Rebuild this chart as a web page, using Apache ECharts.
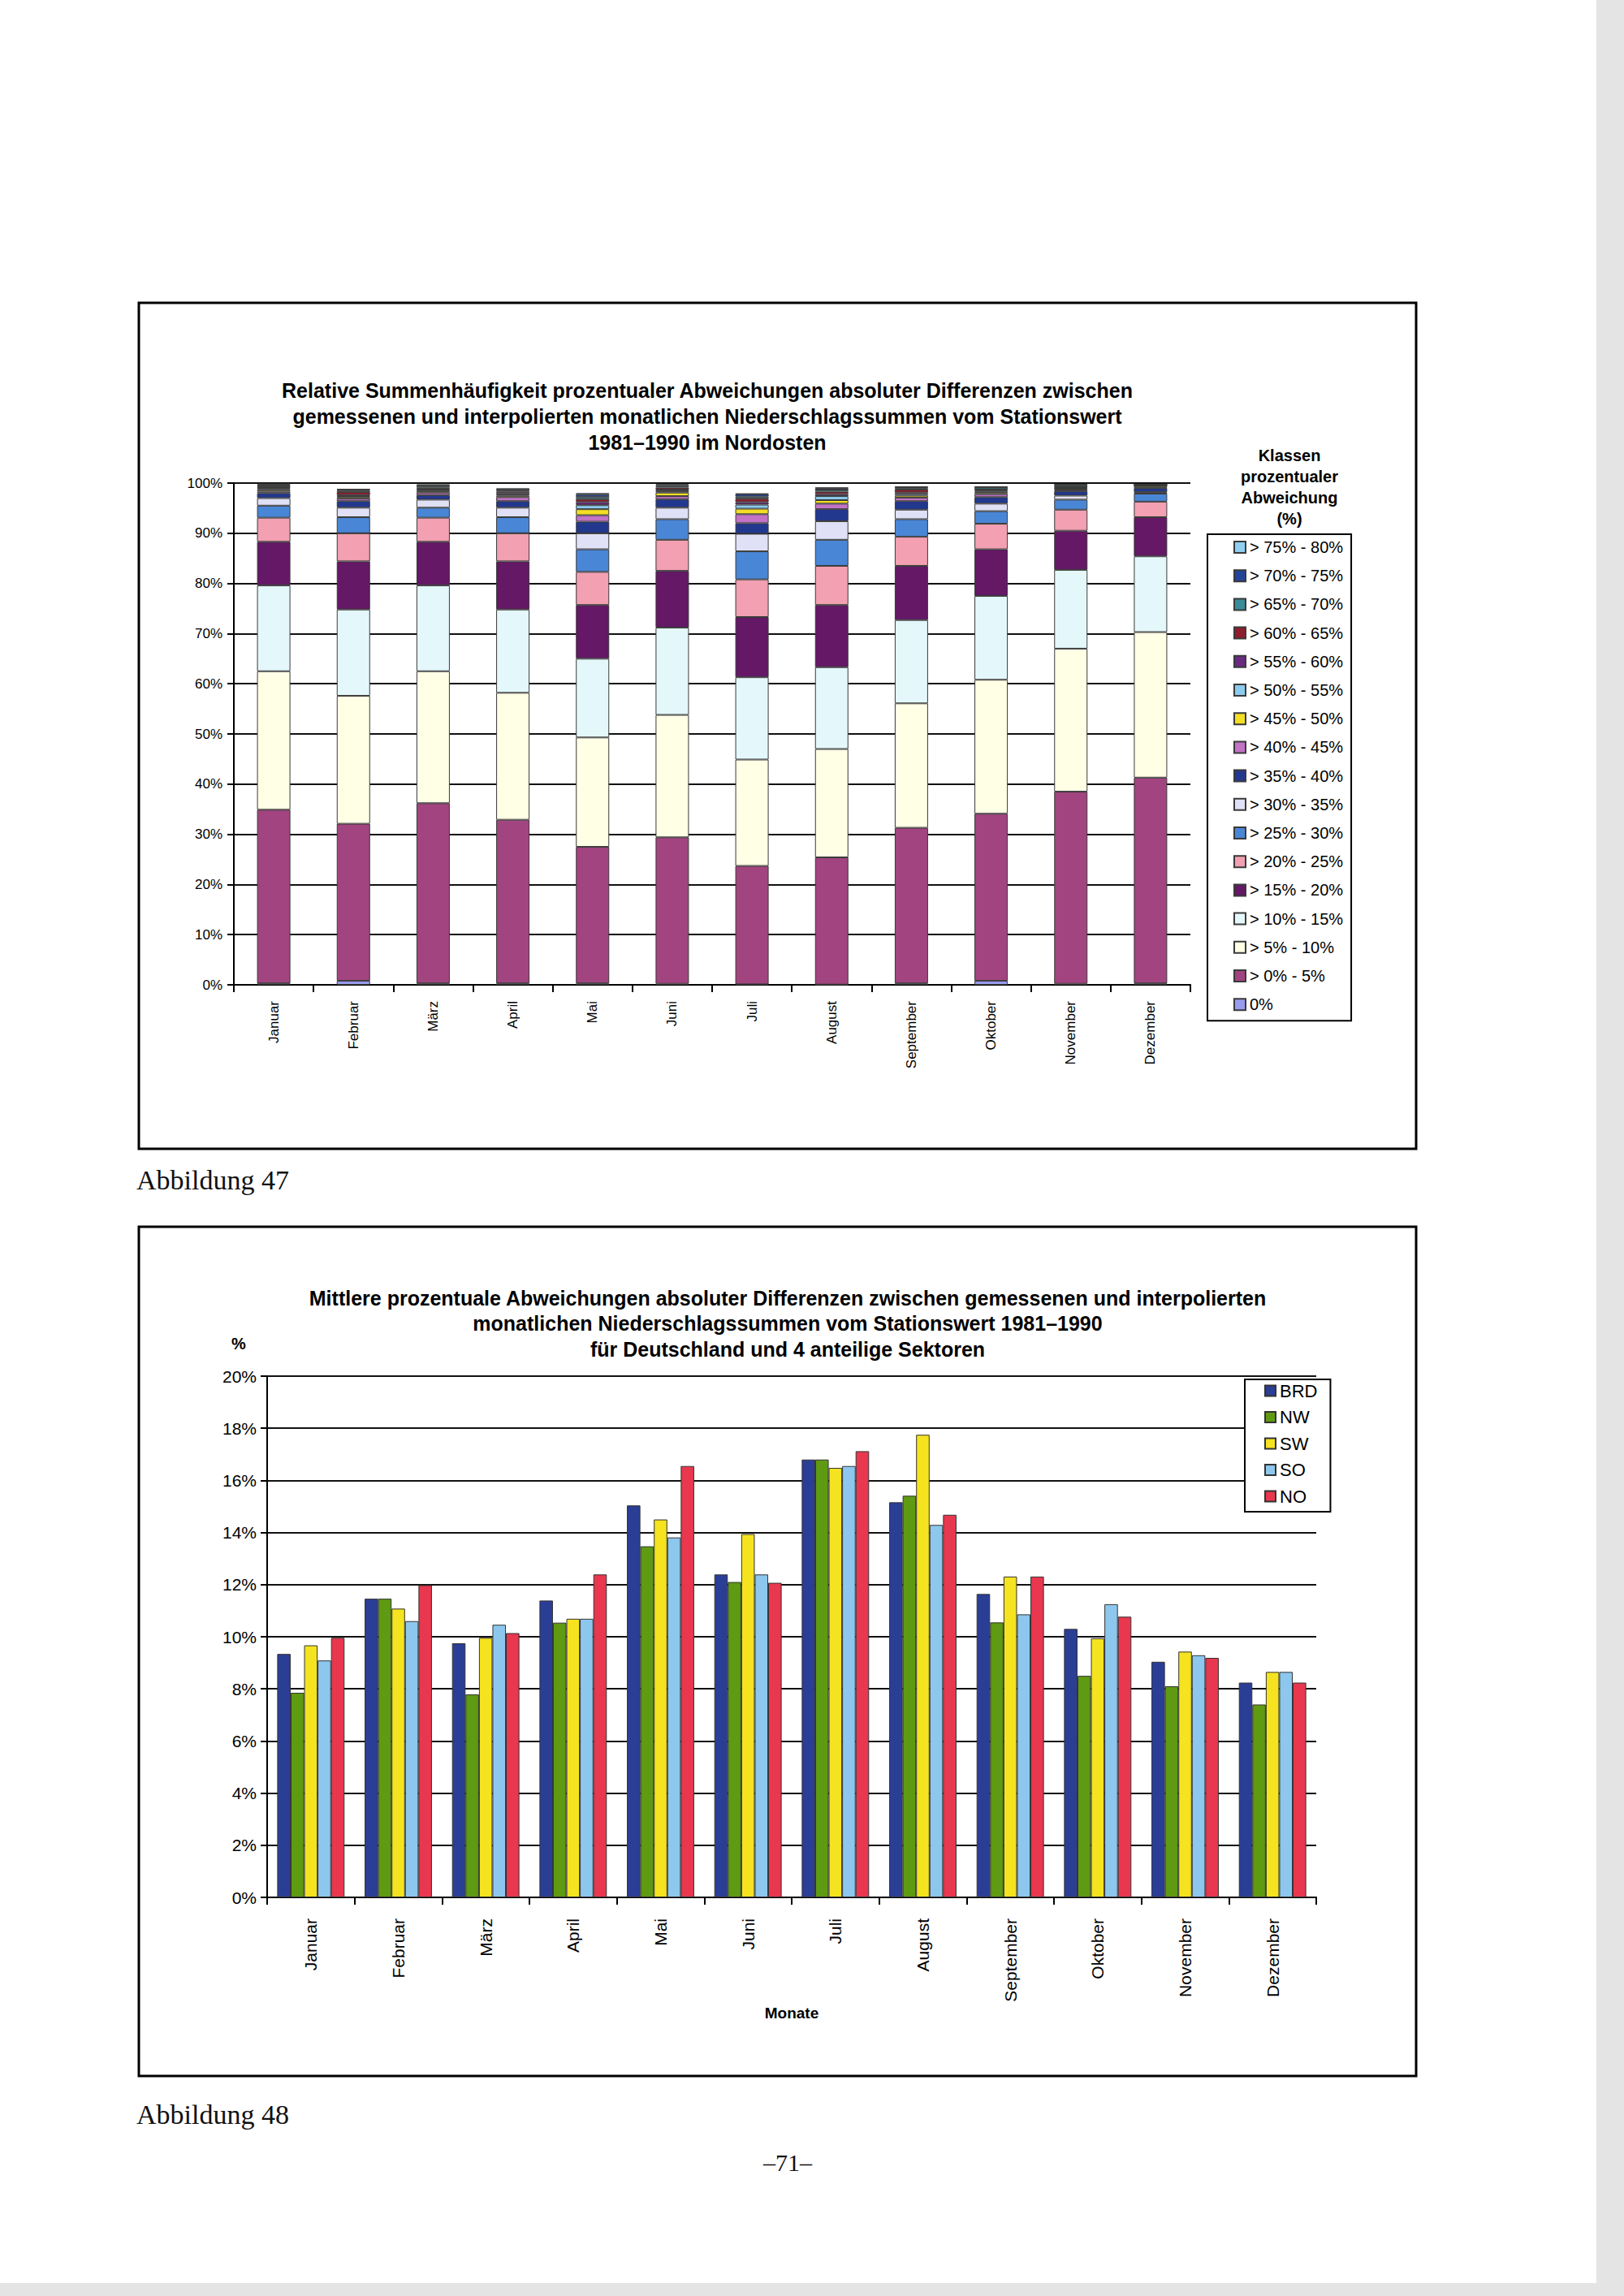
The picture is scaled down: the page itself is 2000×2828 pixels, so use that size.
<!DOCTYPE html>
<html>
<head>
<meta charset="utf-8">
<script src="https://cdn.jsdelivr.net/npm/echarts@6/dist/echarts.min.js"></script>
<style>
html,body{margin:0;padding:0;background:#fff;}
#c{width:2000px;height:2828px;}
</style>
</head>
<body>
<div id="c"></div>
<script>
// ---------- Abbildung 47 data ----------
var months = ['Januar','Februar','März','April','Mai','Juni','Juli','August','September','Oktober','November','Dezember'];
var classNames = ['0%','> 0% - 5%','> 5% - 10%','> 10% - 15%','> 15% - 20%','> 20% - 25%','> 25% - 30%','> 30% - 35%','> 35% - 40%','> 40% - 45%','> 45% - 50%','> 50% - 55%','> 55% - 60%','> 60% - 65%','> 65% - 70%','> 70% - 75%','> 75% - 80%'];
var classColors = ['#9A9CF0','#A2447F','#FFFFE6','#E4F8FB','#641866','#F2A0B2','#4A86D6','#E0E0F6','#22388F','#C273C6','#F3DE22','#8CCBEE','#6A2A80','#8E1E2E','#3A8C9A','#24449A','#8FD0F0'];
var c0     = [0.3, 0.8, 0.3, 0.3, 0.3, 0.2, 0.1, 0.05, 0.3, 0.8, 0.2, 0.3];
var c0_5   = [34.6, 31.3, 35.9, 32.6, 27.2, 29.2, 23.6, 25.35, 31.0, 33.3, 38.3, 41.0];
var c5_10  = [27.6, 25.5, 26.3, 25.3, 21.8, 24.4, 21.2, 21.6, 24.8, 26.7, 28.5, 29.0];
var c10_15 = [17.1, 17.2, 17.1, 16.6, 15.7, 17.4, 16.4, 16.3, 16.6, 16.7, 15.7, 15.1];
var c15_20 = [8.7, 9.6, 8.7, 9.6, 10.7, 11.3, 12.0, 12.4, 10.8, 9.3, 7.8, 7.8];
var c20_25 = [4.8, 5.6, 4.8, 5.6, 6.6, 6.2, 7.5, 7.8, 5.8, 5.1, 4.2, 3.1];
var c25_30 = [2.4, 3.2, 2.0, 3.2, 4.5, 4.1, 5.6, 5.2, 3.5, 2.5, 2.0, 1.6];
var c30_35 = [1.5, 1.9, 1.6, 1.9, 3.2, 2.3, 3.5, 3.7, 1.9, 1.5, 0.8, 0.3];
var c35_40 = [1.0, 1.3, 0.9, 1.3, 2.3, 1.7, 2.1, 2.4, 1.7, 1.3, 0.9, 0.8];
var c40_45 = [0.3, 0.5, 0.5, 0.8, 1.3, 0.6, 1.8, 1.1, 0.7, 0.6, 0.3, 0.1];
var c45_50 = [0.3, 0.3, 0.3, 0.3, 1.2, 0.7, 1.1, 0.7, 0.4, 0.3, 0.2, 0.3];
var c50_55 = [0.2, 0.2, 0.3, 0.2, 0.8, 0.3, 0.8, 0.8, 0.3, 0.2, 0.1, 0.1];
var c55_60 = [0.2, 0.2, 0.2, 0.3, 0.6, 0.3, 0.5, 0.4, 0.3, 0.2, 0.2, 0.05];
var c60_65 = [0.2, 0.6, 0.2, 0.3, 0.6, 0.4, 0.7, 0.5, 0.6, 0.2, 0.1, 0.05];
var c65_70 = [0.3, 0.3, 0.3, 0.2, 0.4, 0.3, 0.4, 0.4, 0.3, 0.4, 0.3, 0.05];
var c70_75 = [0.2, 0.2, 0.2, 0.3, 0.5, 0.2, 0.5, 0.3, 0.2, 0.1, 0.1, 0.05];
var c75_80 = [0.2, 0.1, 0.1, 0.1, 0.3, 0.2, 0.1, 0.1, 0.1, 0.1, 0.1, 0.05];
var classValues = [c0,c0_5,c5_10,c10_15,c15_20,c20_25,c25_30,c30_35,c35_40,c40_45,c45_50,c50_55,c55_60,c60_65,c65_70,c70_75,c75_80];
var yTicks1 = ['0%','10%','20%','30%','40%','50%','60%','70%','80%','90%','100%'];

// ---------- Abbildung 48 data ----------
var sectors = ['BRD','NW','SW','SO','NO'];
var sectorColors = ['#2B3E96','#5E9A12','#F5E31F','#8DC7EE','#E8374E'];
var brd = [9.34, 11.46, 9.75, 11.39, 15.04, 12.39, 16.80, 15.16, 11.64, 10.30, 9.04, 8.24];
var nw  = [7.85, 11.46, 7.79, 10.54, 13.47, 12.10, 16.80, 15.41, 10.55, 8.50, 8.10, 7.40];
var sw  = [9.67, 11.08, 9.96, 10.69, 14.50, 13.94, 16.48, 17.75, 12.31, 9.94, 9.43, 8.65];
var so  = [9.09, 10.60, 10.46, 10.69, 13.81, 12.39, 16.55, 14.29, 10.86, 11.25, 9.29, 8.65];
var no  = [9.96, 11.98, 10.14, 12.39, 16.55, 12.07, 17.12, 14.68, 12.31, 10.77, 9.19, 8.24];
var sectorValues = [brd, nw, sw, so, no];

var FONT = '"Liberation Sans", Arial, sans-serif';
var SERIF = '"Liberation Serif", "Times New Roman", serif';

var chart = echarts.init(document.getElementById('c'), null, {renderer:'svg', width:2000, height:2828});

var series = [];
classNames.forEach(function(n, i){
  series.push({
    type:'bar', name:n, stack:'k', xAxisIndex:0, yAxisIndex:0,
    data: classValues[i], barWidth:41,
    itemStyle:{color:classColors[i], borderColor:'#3a3a3a', borderWidth:1},
    emphasis:{disabled:true}
  });
});
sectors.forEach(function(n, i){
  series.push({
    type:'bar', name:n, xAxisIndex:1, yAxisIndex:1,
    data: sectorValues[i], barGap:'0%', barCategoryGap:'23%',
    itemStyle:{color:sectorColors[i], borderColor:'#333', borderWidth:1},
    emphasis:{disabled:true}
  });
});

var option = {
  animation:false,
  backgroundColor:'#ffffff',
  textStyle:{fontFamily:FONT},
  grid:[
    {left:288, top:595, width:1178, height:618},
    {left:329, top:1695, width:1292, height:642}
  ],
  xAxis:[
    {type:'category', gridIndex:0, data:months,
     axisLine:{lineStyle:{color:'#000', width:2}},
     axisTick:{show:true, alignWithLabel:false, length:9, lineStyle:{color:'#000', width:2}},
     axisLabel:{rotate:90, margin:20, color:'#000', fontSize:17, fontFamily:FONT, interval:0}},
    {type:'category', gridIndex:1, data:months,
     name:'Monate', nameLocation:'middle', nameGap:124,
     nameTextStyle:{fontSize:19, fontWeight:'bold', color:'#000', fontFamily:FONT},
     axisLine:{lineStyle:{color:'#000', width:2}},
     axisTick:{show:true, alignWithLabel:false, length:9, lineStyle:{color:'#000', width:2}},
     axisLabel:{rotate:90, margin:26, color:'#000', fontSize:21, fontFamily:FONT, interval:0}}
  ],
  yAxis:[
    {type:'value', gridIndex:0, min:0, max:100, interval:10,
     axisLine:{show:true, lineStyle:{color:'#000', width:2}},
     axisTick:{show:true, length:8, lineStyle:{color:'#000', width:2}},
     splitLine:{show:true, lineStyle:{color:'#111', width:2}},
     axisLabel:{color:'#000', fontSize:17, fontFamily:FONT, margin:14,
       formatter:function(v){ return yTicks1[Math.round(v/10)]; }}},
    {type:'value', gridIndex:1, min:0, max:20, interval:2,
     axisLine:{show:true, lineStyle:{color:'#000', width:2}},
     axisTick:{show:true, length:8, lineStyle:{color:'#000', width:2}},
     splitLine:{show:true, lineStyle:{color:'#111', width:2}},
     axisLabel:{color:'#000', fontSize:21, fontFamily:FONT, margin:13, formatter:'{value}%'}}
  ],
  legend:[
    {data: classNames.slice().reverse(), orient:'vertical', left:1487, top:658, width:199,
     padding:[6, 10, 10, 32], itemGap:15.2, itemWidth:14, itemHeight:14, icon:'rect',
     borderColor:'#000', borderWidth:2, backgroundColor:'#fff', selectedMode:false,
     textStyle:{fontSize:20, color:'#000', fontFamily:FONT, lineHeight:20}},
    {data: sectors, orient:'vertical', left:1533, top:1699,
     padding:[3, 16, 8, 24], itemGap:10.5, itemWidth:13, itemHeight:13, icon:'rect',
     borderColor:'#000', borderWidth:2, backgroundColor:'#fff', selectedMode:false,
     textStyle:{fontSize:22, color:'#000', fontFamily:FONT, lineHeight:22}}
  ],
  graphic:[
    {type:'rect', shape:{x:171, y:373, width:1573, height:1042}, style:{fill:'none', stroke:'#000', lineWidth:3}, z:-1},
    {type:'rect', shape:{x:171, y:1511, width:1573, height:1046}, style:{fill:'none', stroke:'#000', lineWidth:3}, z:-1},
    {type:'text', x:871, y:465, style:{text:'Relative Summenhäufigkeit prozentualer Abweichungen absoluter Differenzen zwischen\ngemessenen und interpolierten monatlichen Niederschlagssummen vom Stationswert\n1981–1990 im Nordosten', textAlign:'center', font:'bold 25px '+FONT, lineHeight:32, fill:'#000'}},
    {type:'text', x:1588, y:548, style:{text:'Klassen\nprozentualer\nAbweichung\n(%)', textAlign:'center', font:'bold 20px '+FONT, lineHeight:26, fill:'#000'}},
    {type:'text', x:970, y:1583, style:{text:'Mittlere prozentuale Abweichungen absoluter Differenzen zwischen gemessenen und interpolierten\nmonatlichen Niederschlagssummen vom Stationswert 1981–1990\nfür Deutschland und 4 anteilige Sektoren', textAlign:'center', font:'bold 25px '+FONT, lineHeight:31.5, fill:'#000'}},
    {type:'text', x:294, y:1655, style:{text:'%', textAlign:'center', textVerticalAlign:'middle', font:'bold 20px '+FONT, fill:'#000'}},
    {type:'text', x:168, y:1453, style:{text:'Abbildung 47', textAlign:'left', textVerticalAlign:'middle', font:'34px '+SERIF, fill:'#111'}},
    {type:'text', x:168, y:2604, style:{text:'Abbildung 48', textAlign:'left', textVerticalAlign:'middle', font:'34px '+SERIF, fill:'#111'}},
    {type:'text', x:970, y:2663, style:{text:'–71–', textAlign:'center', textVerticalAlign:'middle', font:'30px '+SERIF, fill:'#111'}},
    {type:'rect', shape:{x:1966, y:0, width:34, height:2828}, style:{fill:'#e4e4e4'}, z:-2},
    {type:'rect', shape:{x:0, y:2812, width:2000, height:16}, style:{fill:'#e4e4e4'}, z:-2}
  ],
  series: series
};
chart.setOption(option);
</script>
</body>
</html>
